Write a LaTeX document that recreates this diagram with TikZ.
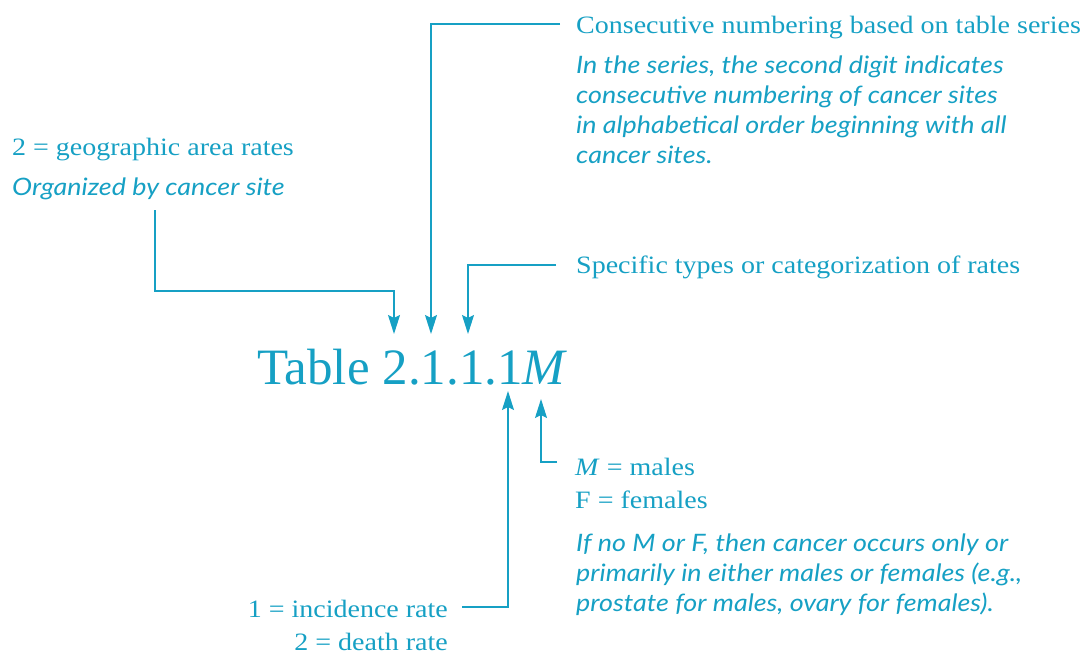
\documentclass[tikz,border=0pt]{standalone}
\usepackage{fontspec}
\setmainfont{Liberation Serif}
\newfontfamily\lblfont[FakeStretch=1.12]{Liberation Serif}
\newfontfamily\notefont[FakeStretch=1.12]{Lato}
\usetikzlibrary{arrows.meta}
\definecolor{tabteal}{RGB}{22,160,196}

\begin{document}
\begin{tikzpicture}[x=1pt,y=-1pt,every node/.style={text=tabteal,inner sep=0pt,anchor=base west,align=left},
		lbl/.style={font=\fontsize{25}{33}\selectfont\lblfont},
		note/.style={font=\fontsize{24}{30}\selectfont\notefont\itshape},
		pointer/.style={draw=tabteal,line width=1.3pt,-{Stealth[length=19pt,width=12pt,inset=3pt]}}]
	\useasboundingbox (0,0) rectangle (1086,656);
	% title
	\node[font=\fontsize{51}{60}\selectfont] (title) at (257,384) {Table 2.1.1.1\textit{M}};
	% labels above (base = last line)
	\node[lbl] (series) at (576,33) {Consecutive numbering based on table series};
	\node[note] (seriesnote) at (576,163) {In the series, the second digit indicates\\consecutive numbering of cancer sites\\in alphabetical order beginning with all\\cancer sites.};
	\node[lbl] (geo) at (12,155) {2 = geographic area rates};
	\node[note] (geonote) at (12,195) {Organized by cancer site};
	\node[lbl] (types) at (576,273) {Specific types or categorization of rates};
	% labels below
	\node[lbl] (sex) at (575,508) {\textit{M} = males\\F = females};
	\node[note] (sexnote) at (576,611) {If no M or F, then cancer occurs only or\\primarily in either males or females (e.g.,\\prostate for males, ovary for females).};
	\node[lbl,anchor=base east,align=right] (rate) at (448,650) {1 = incidence rate\\2 = death rate};
	% arrow tips on the title
	\coordinate (tipA) at (394,334);
	\coordinate (tipB) at (431,334);
	\coordinate (tipC) at (468,334);
	\coordinate (tipD) at (508,391);
	\coordinate (tipE) at (541,399);
	% connectors
	\coordinate (geoEnd) at (155,210);
	\coordinate (seriesEnd) at (560,24);
	\coordinate (typesEnd) at (556,265);
	\coordinate (rateEnd) at (462,607);
	\coordinate (sexEnd) at (557,462);
	\draw[pointer] (geoEnd) |- (394,291) -- (tipA);
	\draw[pointer] (seriesEnd) -| (tipB);
	\draw[pointer] (typesEnd) -| (tipC);
	\draw[pointer] (rateEnd) -| (tipD);
	\draw[pointer] (sexEnd) -| (tipE);
\end{tikzpicture}
\end{document}
